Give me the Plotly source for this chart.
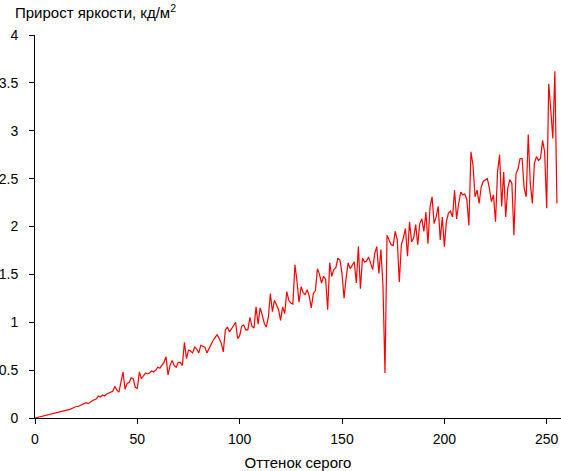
import plotly.graph_objects as go

gray_level = list(range(256))

brightness_gain = [
    0.00, 0.005, 0.01, 0.015, 0.02, 0.03, 0.035, 0.04, 0.045, 0.05,
    0.055, 0.06, 0.065, 0.07, 0.075, 0.08, 0.085, 0.09, 0.10, 0.11,
    0.12, 0.12, 0.13, 0.14, 0.15, 0.16, 0.15, 0.17, 0.18, 0.19,
    0.20, 0.23, 0.22, 0.24, 0.23, 0.25, 0.26, 0.27, 0.28, 0.33,
    0.29, 0.27, 0.36, 0.48, 0.30, 0.36, 0.37, 0.42, 0.41, 0.32,
    0.31, 0.48, 0.41, 0.44, 0.47, 0.46, 0.47, 0.49, 0.48, 0.50,
    0.53, 0.52, 0.55, 0.58, 0.64, 0.45, 0.55, 0.60, 0.55, 0.53,
    0.58, 0.58, 0.55, 0.79, 0.62, 0.71, 0.70, 0.68, 0.74, 0.72,
    0.68, 0.76, 0.75, 0.74, 0.68, 0.73, 0.78, 0.81, 0.84, 0.87,
    0.83, 0.78, 0.69, 0.92, 0.95, 0.90, 0.93, 0.97, 1.00, 0.83,
    0.86, 0.96, 0.97, 0.92, 0.92, 1.05, 0.96, 0.94, 1.16, 0.98,
    1.15, 1.08, 0.99, 0.95, 1.05, 1.30, 1.11, 1.23, 1.18, 1.13,
    1.02, 1.16, 1.09, 1.32, 1.23, 1.20, 1.19, 1.60, 1.43, 1.21,
    1.37, 1.31, 1.29, 1.34, 1.27, 1.15, 1.30, 1.33, 1.56, 1.50,
    1.41, 1.48, 1.45, 1.13, 1.62, 1.48, 1.55, 1.57, 1.67, 1.65,
    1.51, 1.25, 1.46, 1.62, 1.56, 1.60, 1.63, 1.41, 1.79, 1.35,
    1.67, 1.63, 1.64, 1.68, 1.62, 1.55, 1.72, 1.79, 1.51, 1.76,
    1.39, 0.47, 1.91, 1.86, 1.81, 1.80, 1.95, 1.86, 1.42, 1.81,
    1.88, 1.98, 1.69, 2.05, 1.84, 1.88, 2.02, 1.81, 2.03, 2.08,
    1.95, 2.15, 1.82, 2.20, 2.31, 2.03, 2.10, 2.21, 1.86, 2.10,
    1.79, 2.05, 2.14, 2.16, 2.10, 2.38, 2.08, 2.24, 2.36, 2.33,
    2.34, 2.28, 2.01, 2.78, 2.64, 2.31, 2.38, 2.24, 2.41, 2.47,
    2.49, 2.50, 2.40, 2.26, 2.33, 2.05, 2.57, 2.75, 2.21, 2.57,
    2.10, 2.40, 2.49, 2.45, 1.91, 2.55, 2.60, 2.71, 2.71, 2.40,
    2.31, 2.96, 2.45, 2.24, 2.66, 2.73, 2.69, 2.71, 2.90, 2.78,
    2.19, 3.49, 3.22, 2.92, 3.62, 2.24,
]

y_ticks = [0, 0.5, 1, 1.5, 2, 2.5, 3, 3.5, 4]
y_tick_text = ["0", "0.5", "1", "1.5", "2", "2.5", "3", "3.5", "4"]
x_ticks = [0, 50, 100, 150, 200, 250]

FONT = "Liberation Sans, Arial, sans-serif"

fig = go.Figure()
fig.add_trace(go.Scatter(
    x=gray_level, y=brightness_gain, mode="lines",
    line=dict(color="#ff0000", width=1.2),
    hoverinfo="x+y", showlegend=False,
))

fig.update_layout(
    width=561, height=471,
    margin=dict(l=35, r=0, t=35, b=53, autoexpand=False),
    paper_bgcolor="white", plot_bgcolor="white",
    font=dict(family=FONT, size=14, color="#000000"),
    xaxis=dict(
        range=[0, 257], tickvals=x_ticks, showgrid=False, zeroline=False,
        showline=True, linecolor="#000000", linewidth=1,
        ticks="outside", ticklen=5, tickcolor="#000000",
        ticklabelstandoff=3,
        tickfont=dict(family=FONT, size=14, color="#000000"),
        title=dict(text="Оттенок серого", font=dict(family=FONT, size=15), standoff=12),
    ),
    yaxis=dict(
        range=[0, 4], tickvals=y_ticks, ticktext=y_tick_text,
        showgrid=False, zeroline=False,
        showline=True, linecolor="#000000", linewidth=1,
        ticks="outside", ticklen=5, tickcolor="#000000",
        ticklabelstandoff=8,
        tickfont=dict(family=FONT, size=14, color="#000000"),
    ),
    annotations=[dict(
        text="Прирост яркости, кд/м<sup>2</sup>",
        xref="paper", yref="paper", x=0, y=1, xshift=-22, yshift=35,
        xanchor="left", yanchor="top", showarrow=False,
        font=dict(family=FONT, size=15, color="#000000"),
    )],
)

fig.write_html(
    "out.html",
    config={"displayModeBar": False},
    post_script="document.body.style.margin='0';document.body.style.overflow='hidden';",
)
